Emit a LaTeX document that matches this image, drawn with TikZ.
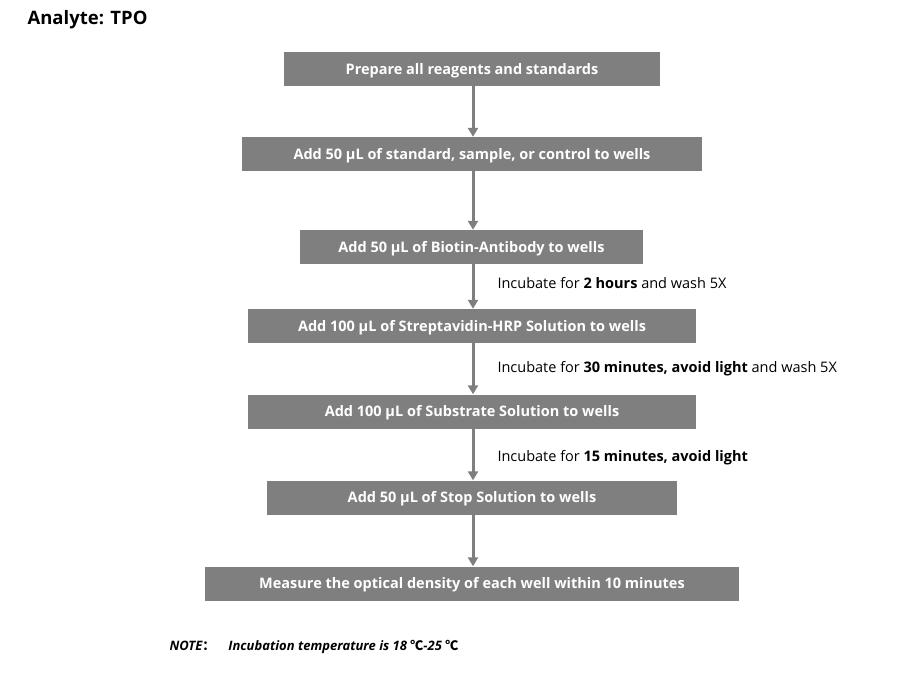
\documentclass[tikz,border=0pt]{standalone}
\usepackage{fontspec}
\setmainfont{Open Sans}
\newfontfamily\cjk{Noto Sans CJK SC}
\usetikzlibrary{arrows.meta}
\definecolor{boxgray}{HTML}{7F7F7F}
\tikzset{
  stepbox/.style={fill=boxgray, text=white, font=\fontsize{14.5}{18}\selectfont\bfseries, minimum height=34pt, inner sep=0pt, text depth=1pt},
  flow/.style={draw=boxgray, line width=3pt, -{Triangle[length=9pt,width=10pt]}},
  note/.style={font=\fontsize{14.5}{18}\selectfont, anchor=west}
}
\begin{document}
\begin{tikzpicture}[x=1pt, y=1pt]
	\useasboundingbox (0,0) rectangle (910,-684);
	\node[font=\fontsize{18.5}{22}\selectfont\bfseries, anchor=west] (title) at (24,-20) {Analyte: TPO};

	\node[stepbox, minimum width=376pt] (prep) at (472,-69) {Prepare all reagents and standards};
	\node[stepbox, minimum width=460pt] (add) at (472,-154) {Add 50 µL of standard, sample, or control to wells};
	\node[stepbox, minimum width=343pt] (biotin) at (471.5,-247) {Add 50 µL of Biotin-Antibody to wells};
	\node[stepbox, minimum width=448pt] (hrp) at (472,-326) {Add 100 µL of Streptavidin-HRP Solution to wells};
	\node[stepbox, minimum width=448pt] (subst) at (472,-411.5) {Add 100 µL of Substrate Solution to wells};
	\node[stepbox, minimum width=410pt] (stop) at (472,-497.5) {Add 50 µL of Stop Solution to wells};
	\node[stepbox, minimum width=534pt] (od) at (472,-583.5) {Measure the optical density of each well within 10 minutes};

	\draw[flow] ([xshift=1pt]prep.south) -- ([xshift=1pt]add.north);
	\draw[flow] ([xshift=1pt]add.south) -- ([xshift=1.5pt]biotin.north);
	\draw[flow] ([xshift=1.5pt]biotin.south) -- ([xshift=1pt]hrp.north);
	\draw[flow] ([xshift=1pt]hrp.south) -- ([xshift=1pt]subst.north);
	\draw[flow] ([xshift=1pt]subst.south) -- ([xshift=1pt]stop.north);
	\draw[flow] ([xshift=1pt]stop.south) -- ([xshift=1pt]od.north);

	\node[note] (inc1) at (494,-283) {Incubate for \textbf{2 hours} and wash 5X};
	\node[note] (inc2) at (494,-369) {Incubate for \textbf{30 minutes, avoid light} and wash 5X};
	\node[note] (inc3) at (494,-458) {Incubate for \textbf{15 minutes, avoid light}};

	\node[font=\fontsize{13}{16}\selectfont\bfseries\itshape, anchor=west] (temp) at (166,-647) {NOTE{\cjk ：}\quad Incubation temperature is 18 {\cjk ℃}-25 {\cjk ℃}};
\end{tikzpicture}
\end{document}
